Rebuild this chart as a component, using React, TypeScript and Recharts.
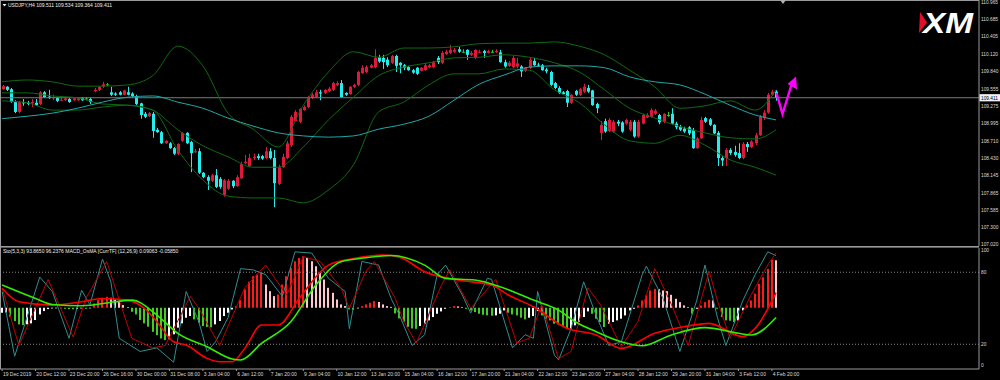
import React from 'react'
import { ComposedChart, Bar, Line, XAxis, YAxis, ReferenceLine } from 'recharts'

const FONT = '"Liberation Sans", Arial, sans-serif'
const TEXT = '#dcdcdc'
const FRAME = '#9a9a9a'
const BULL = '#e0183c'
const BEAR = '#22eeee'
const DOJI = '#22cc22'
const BAND = '#0f6a12'
const MA = '#20a8a8'

const SLOTS = 234

// time axis, one label every 8 bars (H4)
const labelBars = [0, 8, 16, 24, 32, 40, 48, 56, 64, 72, 80, 88, 96, 104, 112, 120, 128, 136, 144, 152, 160, 168, 176, 184]
const timeLabels = [
  '19 Dec 2019', '20 Dec 12:00', '23 Dec 20:00', '26 Dec 16:00', '30 Dec 00:00', '31 Dec 08:00',
  '3 Jan 04:00', '6 Jan 12:00', '7 Jan 20:00', '9 Jan 04:00', '10 Jan 12:00', '13 Jan 20:00',
  '15 Jan 04:00', '16 Jan 12:00', '17 Jan 20:00', '21 Jan 04:00', '22 Jan 12:00', '23 Jan 20:00',
  '27 Jan 04:00', '28 Jan 12:00', '29 Jan 20:00', '31 Jan 04:00', '3 Feb 12:00', '4 Feb 20:00',
]

const priceTicks = [110.965, 110.685, 110.405, 110.12, 109.84, 109.555, 109.275, 108.995, 108.71, 108.43, 108.145, 107.865, 107.585, 107.3, 107.02]
const oscTicks = [0, 20, 80, 100]

// USDJPY H4 candles
const opens = [
  109.55, 109.59, 109.55, 109.34, 109.18, 109.34, 109.33, 109.32, 109.33, 109.31,
  109.50, 109.43, 109.41, 109.41, 109.37, 109.37, 109.39, 109.37, 109.37, 109.41,
  109.40, 109.39, 109.52, 109.54, 109.59, 109.63, 109.50, 109.48, 109.50, 109.46,
  109.50, 109.48, 109.44, 109.32, 109.15, 109.11, 109.15, 108.89, 108.85, 108.67,
  108.67, 108.59, 108.50, 108.71, 108.84, 108.69, 108.53, 108.54, 108.19, 108.12,
  108.06, 108.15, 108.09, 107.83, 107.93, 108.06, 107.97, 108.10, 108.35, 108.30,
  108.43, 108.46, 108.46, 108.43, 108.54, 108.43, 108.01, 108.28, 108.43, 108.64,
  109.03, 109.02, 109.21, 109.26, 109.41, 109.42, 109.50, 109.49, 109.52, 109.54,
  109.62, 109.65, 109.49, 109.47, 109.59, 109.62, 109.81, 109.83, 109.90, 109.91,
  110.07, 110.06, 110.03, 109.98, 110.09, 109.98, 109.94, 109.91, 109.86, 109.90,
  109.85, 109.86, 109.91, 109.91, 110.06, 109.98, 110.12, 110.14, 110.16, 110.20,
  110.16, 110.19, 110.11, 110.06, 110.15, 110.17, 110.14, 110.16, 110.16, 110.15,
  109.99, 109.93, 109.91, 109.92, 109.92, 109.85, 109.90, 110.01, 109.95, 109.94,
  109.87, 109.83, 109.65, 109.57, 109.50, 109.52, 109.33, 109.52, 109.46, 109.51,
  109.57, 109.53, 109.31, 108.84, 109.03, 108.87, 108.86, 109.02, 109.01, 108.99,
  108.89, 109.02, 108.78, 108.99, 109.09, 109.10, 109.15, 109.13, 109.02, 109.13,
  109.15, 108.99, 108.94, 108.91, 108.93, 108.89, 108.59, 108.75, 109.08, 109.06,
  108.97, 108.84, 108.43, 108.43, 108.56, 108.53, 108.51, 108.43, 108.66, 108.61,
  108.67, 108.80, 109.08, 109.17, 109.46, 109.511,
]
const highs = [
  109.62, 109.60, 109.57, 109.37, 109.36, 109.39, 109.36, 109.39, 109.39, 109.52,
  109.52, 109.54, 109.46, 109.42, 109.41, 109.42, 109.41, 109.42, 109.41, 109.42,
  109.42, 109.41, 109.57, 109.60, 109.67, 109.65, 109.59, 109.50, 109.52, 109.54,
  109.59, 109.50, 109.46, 109.33, 109.18, 109.18, 109.18, 108.92, 108.87, 108.72,
  108.69, 108.61, 108.67, 108.85, 108.85, 108.71, 108.58, 108.59, 108.20, 108.15,
  108.17, 108.25, 108.12, 108.09, 108.09, 108.07, 108.15, 108.37, 108.48, 108.50,
  108.50, 108.50, 108.48, 108.61, 108.59, 108.56, 108.32, 108.50, 108.71, 109.13,
  109.21, 109.24, 109.29, 109.44, 109.49, 109.54, 109.54, 109.55, 109.59, 109.67,
  109.68, 109.70, 109.50, 109.60, 109.64, 109.85, 109.94, 109.94, 109.96, 110.20,
  110.11, 110.11, 110.07, 110.11, 110.11, 109.99, 109.96, 109.93, 109.88, 109.91,
  109.91, 109.98, 109.96, 110.01, 110.09, 110.17, 110.19, 110.27, 110.22, 110.24,
  110.20, 110.20, 110.17, 110.20, 110.19, 110.19, 110.19, 110.19, 110.20, 110.19,
  110.03, 110.01, 110.09, 110.06, 109.94, 109.91, 110.06, 110.06, 109.98, 109.96,
  109.90, 109.85, 109.67, 109.60, 109.52, 109.54, 109.47, 109.54, 109.57, 109.64,
  109.62, 109.54, 109.33, 109.03, 109.07, 109.08, 109.05, 109.05, 109.03, 109.07,
  109.05, 109.05, 109.05, 109.15, 109.16, 109.24, 109.23, 109.15, 109.16, 109.18,
  109.24, 109.02, 108.97, 108.94, 108.95, 108.92, 108.77, 109.10, 109.10, 109.08,
  108.98, 108.87, 108.46, 108.59, 108.59, 108.63, 108.67, 108.69, 108.69, 108.72,
  108.84, 109.13, 109.21, 109.49, 109.54, 109.534,
]
const lows = [
  109.54, 109.52, 109.33, 109.16, 109.16, 109.28, 109.29, 109.26, 109.28, 109.29,
  109.41, 109.39, 109.37, 109.34, 109.36, 109.36, 109.33, 109.36, 109.36, 109.36,
  109.37, 109.31, 109.50, 109.52, 109.57, 109.60, 109.44, 109.44, 109.45, 109.45,
  109.45, 109.42, 109.29, 109.07, 109.08, 109.10, 108.76, 108.84, 108.66, 108.66,
  108.58, 108.48, 108.48, 108.69, 108.66, 108.20, 108.51, 108.17, 108.10, 107.91,
  108.04, 107.94, 107.93, 107.80, 107.91, 107.94, 107.96, 108.09, 108.33, 108.28,
  108.40, 108.40, 108.40, 108.41, 108.41, 107.63, 107.99, 108.27, 108.41, 108.61,
  109.02, 109.00, 109.20, 109.24, 109.39, 109.41, 109.37, 109.47, 109.50, 109.52,
  109.60, 109.41, 109.44, 109.46, 109.57, 109.60, 109.80, 109.81, 109.89, 109.89,
  109.98, 109.88, 109.91, 109.96, 109.83, 109.81, 109.86, 109.85, 109.80, 109.78,
  109.84, 109.85, 109.89, 109.89, 109.96, 109.96, 110.11, 110.12, 110.14, 110.14,
  110.14, 110.03, 110.09, 110.04, 110.14, 110.06, 110.13, 110.14, 110.14, 109.98,
  109.90, 109.91, 109.89, 109.89, 109.75, 109.83, 109.88, 109.93, 109.91, 109.85,
  109.81, 109.60, 109.55, 109.47, 109.46, 109.26, 109.31, 109.44, 109.44, 109.49,
  109.49, 109.28, 109.16, 108.72, 108.84, 108.85, 108.84, 108.95, 108.84, 108.97,
  108.87, 108.76, 108.76, 108.98, 109.08, 109.09, 109.13, 108.98, 109.00, 109.10,
  108.98, 108.90, 108.87, 108.84, 108.80, 108.58, 108.58, 108.74, 109.00, 108.95,
  108.82, 108.30, 108.30, 108.30, 108.48, 108.45, 108.41, 108.41, 108.53, 108.59,
  108.64, 108.79, 109.05, 109.15, 109.44, 109.364,
]
const closes = [
  109.60, 109.54, 109.34, 109.18, 109.34, 109.32, 109.31, 109.34, 109.29, 109.50,
  109.42, 109.41, 109.42, 109.36, 109.38, 109.40, 109.34, 109.40, 109.40, 109.37,
  109.40, 109.34, 109.54, 109.59, 109.63, 109.63, 109.46, 109.46, 109.46, 109.53,
  109.46, 109.44, 109.31, 109.13, 109.10, 109.16, 108.87, 108.85, 108.67, 108.71,
  108.59, 108.50, 108.66, 108.84, 108.67, 108.51, 108.54, 108.19, 108.12, 108.06,
  108.15, 107.96, 107.96, 108.07, 108.06, 107.97, 108.12, 108.33, 108.37, 108.43,
  108.45, 108.43, 108.42, 108.54, 108.43, 108.02, 108.28, 108.45, 108.67, 109.10,
  109.18, 109.23, 109.26, 109.42, 109.46, 109.50, 109.48, 109.54, 109.56, 109.65,
  109.65, 109.42, 109.46, 109.59, 109.62, 109.83, 109.90, 109.91, 109.94, 110.06,
  110.00, 109.99, 109.94, 110.09, 109.93, 109.94, 109.90, 109.86, 109.82, 109.80,
  109.90, 109.94, 109.94, 109.99, 109.99, 110.14, 110.16, 110.19, 110.19, 110.16,
  110.16, 110.11, 110.14, 110.19, 110.16, 110.14, 110.17, 110.16, 110.17, 109.99,
  109.92, 109.98, 110.06, 109.97, 109.84, 109.90, 110.03, 109.94, 109.94, 109.86,
  109.84, 109.62, 109.57, 109.49, 109.47, 109.33, 109.46, 109.46, 109.55, 109.59,
  109.51, 109.29, 109.24, 108.97, 108.86, 109.05, 109.02, 108.99, 108.86, 109.05,
  109.02, 108.78, 109.02, 109.13, 109.13, 109.21, 109.20, 109.01, 109.15, 109.13,
  108.99, 108.93, 108.89, 108.86, 108.83, 108.59, 108.75, 109.05, 109.02, 108.97,
  108.83, 108.43, 108.39, 108.56, 108.51, 108.48, 108.43, 108.66, 108.61, 108.70,
  108.80, 109.10, 109.17, 109.46, 109.51, 109.411,
]

// Bollinger (20,2) and slow MA, read every 6 bars
const bandBars = [0, 6, 12, 18, 24, 30, 36, 42, 48, 54, 60, 66, 72, 78, 84, 90, 96, 102, 108, 114, 120, 126, 132, 138, 144, 150, 156, 162, 168, 174, 180, 185]
const bbUpper = [109.67, 109.70, 109.67, 109.60, 109.60, 109.62, 109.77, 110.25, 109.93, 109.16, 108.90, 108.61, 109.29, 109.83, 110.16, 110.07, 110.22, 110.22, 110.24, 110.29, 110.30, 110.30, 110.32, 110.25, 110.11, 109.86, 109.59, 109.24, 109.28, 109.36, 109.21, 109.54]
const bbMiddle = [109.49, 109.49, 109.44, 109.41, 109.31, 109.29, 109.21, 108.89, 108.63, 108.45, 108.28, 108.28, 108.61, 109.05, 109.42, 109.77, 109.91, 109.98, 110.06, 110.07, 110.11, 110.07, 109.98, 109.83, 109.54, 109.24, 109.08, 108.94, 108.84, 108.76, 108.74, 108.89]
const bbLower = [109.36, 109.33, 109.21, 109.21, 109.26, 109.29, 109.21, 108.56, 108.07, 107.81, 107.78, 107.78, 107.70, 107.91, 108.32, 109.18, 109.34, 109.62, 109.80, 109.80, 109.88, 109.86, 109.54, 109.33, 108.97, 108.71, 108.67, 108.80, 108.64, 108.40, 108.28, 108.15]
const maSlow = [109.07, 109.11, 109.16, 109.24, 109.34, 109.42, 109.44, 109.34, 109.24, 109.08, 108.95, 108.84, 108.79, 108.77, 108.79, 108.90, 108.98, 109.11, 109.37, 109.63, 109.78, 109.91, 109.93, 109.93, 109.90, 109.75, 109.67, 109.62, 109.47, 109.29, 109.13, 109.05]

// Stochastic (5,3,3)
const stochBars = [0, 3, 9, 12, 16, 19, 21, 24, 26, 28, 33, 37, 41, 44, 47, 49, 51, 54, 57, 60, 63, 67, 70, 74, 78, 82, 83, 86, 90, 93, 95, 98, 101, 104, 106, 110, 112, 116, 117, 122, 125, 127, 128, 132, 133, 136, 139, 142, 145, 148, 153, 154, 158, 162, 166, 168, 171, 173, 177, 180, 183, 185]
const stochMain = [64, 10, 76, 64, 25, 65, 53, 91, 72, 25, 14, 17, 5, 64, 39, 14, 22, 42, 83, 82, 78, 60, 97, 96, 75, 64, 33, 89, 86, 58, 44, 19, 28, 78, 86, 61, 46, 75, 74, 17, 28, 25, 64, 11, 7, 33, 72, 44, 19, 22, 78, 85, 58, 14, 56, 86, 42, 19, 56, 78, 97, 93.865]
const signalBars = [0, 4, 11, 17, 20, 25, 31, 36, 39, 45, 47, 52, 58, 63, 68, 72, 76, 81, 83, 87, 89, 94, 96, 99, 105, 107, 112, 118, 123, 126, 129, 133, 136, 140, 143, 148, 152, 156, 160, 164, 169, 171, 174, 179, 183, 185]
const stochSignal = [67, 19, 74, 26, 58, 89, 25, 17, 19, 60, 50, 19, 67, 86, 61, 93, 89, 67, 50, 81, 89, 58, 39, 21, 69, 82, 50, 74, 21, 25, 53, 8, 14, 67, 53, 18, 39, 83, 53, 19, 81, 56, 25, 61, 86, 96.2376]

// MACD_OsMA (12,26,9)
const macdBars = [0, 4, 12, 19, 24, 30, 34, 37, 41, 44, 49, 52, 55, 58, 62, 66, 71, 78, 84, 91, 95, 101, 109, 117, 121, 127, 135, 142, 148, 156, 163, 169, 177, 180, 185]
const macdMain = [0.117, 0.036, 0.016, 0.036, 0.056, 0.046, -0.004, -0.084, -0.205, -0.225, -0.305, -0.325, -0.325, -0.245, -0.104, -0.104, 0.056, 0.257, 0.297, 0.318, 0.305, 0.217, 0.167, 0.137, 0.077, 0.006, -0.124, -0.164, -0.245, -0.154, -0.114, -0.094, -0.174, -0.124, 0.09063]
const macdSigBars = [0, 8, 12, 19, 27, 31, 37, 42, 49, 55, 57, 62, 69, 75, 81, 87, 93, 101, 106, 113, 119, 127, 133, 137, 142, 148, 153, 160, 168, 176, 179, 185]
const macdSignal = [0.137, 0.056, 0.02, 0.012, 0.036, 0.046, -0.044, -0.154, -0.235, -0.309, -0.315, -0.215, -0.084, 0.137, 0.277, 0.301, 0.315, 0.257, 0.177, 0.167, 0.127, 0.046, -0.014, -0.084, -0.144, -0.205, -0.229, -0.164, -0.12, -0.154, -0.164, -0.0585]
const osma = [
  -0.030, -0.028, -0.054, -0.080, -0.100, -0.104, -0.100, -0.094, -0.074, -0.040,
  -0.020, -0.008, -0.004, -0.002, -0.004, -0.006, -0.008, -0.009, -0.006, -0.004,
  -0.006, -0.002, 0.026, 0.046, 0.060, 0.066, 0.060, 0.050, 0.036, 0.016,
  0.004, -0.024, -0.040, -0.074, -0.094, -0.114, -0.145, -0.165, -0.185, -0.195,
  -0.190, -0.160, -0.120, -0.094, -0.060, -0.050, -0.070, -0.090, -0.110, -0.115,
  -0.118, -0.100, -0.080, -0.050, -0.030, -0.010, 0.010, 0.046, 0.110, 0.157,
  0.190, 0.200, 0.210, 0.140, 0.100, 0.070, 0.080, 0.140, 0.190, 0.240,
  0.280, 0.300, 0.310, 0.300, 0.280, 0.250, 0.210, 0.170, 0.120, 0.090,
  0.050, 0.020, 0.010, -0.010, -0.012, -0.004, 0.010, 0.020, 0.030, 0.040,
  0.035, 0.020, 0.010, 0.005, -0.034, -0.064, -0.084, -0.115, -0.125, -0.127,
  -0.110, -0.096, -0.076, -0.056, -0.036, -0.022, -0.006, 0.004, 0.010, 0.008,
  0.004, -0.006, -0.016, -0.026, -0.036, -0.042, -0.046, -0.048, -0.046, -0.036,
  -0.016, -0.030, -0.040, -0.046, -0.060, -0.070, -0.060, -0.050, -0.020, -0.046,
  -0.066, -0.076, -0.096, -0.100, -0.115, -0.127, -0.125, -0.106, -0.086, -0.056,
  -0.022, -0.036, -0.066, -0.086, -0.116, -0.096, -0.086, -0.076, -0.066, -0.046,
  -0.016, -0.006, 0.014, 0.044, 0.074, 0.104, 0.114, 0.112, 0.104, 0.100,
  0.078, 0.054, 0.034, 0.014, 0.004, -0.036, -0.006, 0.014, 0.034, 0.048,
  0.044, -0.006, -0.056, -0.076, -0.078, -0.086, -0.076, -0.016, 0.014, 0.044,
  0.084, 0.144, 0.184, 0.234, 0.290, 0.286,
]

const lastClose = closes[closes.length - 1]

const rows: any[] = Array.from({ length: SLOTS }, (_, i) => {
  const has = i < closes.length
  return {
    i,
    candle: has ? [lows[i], highs[i]] : null,
    o: has ? opens[i] : null,
    h: has ? highs[i] : null,
    l: has ? lows[i] : null,
    c: has ? closes[i] : null,
    up: null, mid: null, dn: null, ma: null,
    k: null, d: null, macd: null, msig: null,
    osma: has ? osma[i] : null,
    osmaPrev: has && i > 0 ? osma[i - 1] : null,
  }
})
bandBars.forEach((b, j) => {
  rows[b].up = bbUpper[j]
  rows[b].mid = bbMiddle[j]
  rows[b].dn = bbLower[j]
  rows[b].ma = maSlow[j]
})
stochBars.forEach((b, j) => { rows[b].k = stochMain[j] })
signalBars.forEach((b, j) => { rows[b].d = stochSignal[j] })
macdBars.forEach((b, j) => { rows[b].macd = macdMain[j] })
macdSigBars.forEach((b, j) => { rows[b].msig = macdSignal[j] })

const Candle = (props: any) => {
  const { x, y, width, height, payload } = props
  if (!payload || payload.c == null) return null
  let top = y
  let h = height
  if (h < 0) { top = y + h; h = -h }
  const { o, c } = payload
  const hi = payload.h
  const lo = payload.l
  const ppu = hi > lo ? h / (hi - lo) : 0
  const cx = Math.round(x + width / 2) + 0.5
  const yO = top + (hi - o) * ppu
  const yC = top + (hi - c) * ppu
  const color = c > o ? BULL : c < o ? BEAR : DOJI
  const bodyTop = Math.min(yO, yC)
  const bodyH = Math.max(Math.abs(yC - yO), 1)
  return (
    <g>
      <line x1={cx} x2={cx} y1={top} y2={top + h} stroke={color} strokeWidth={1} />
      <rect x={cx - 1.5} y={bodyTop} width={3} height={bodyH} fill={color} />
    </g>
  )
}

const OsmaBar = (props: any) => {
  const { x, y, width, height, payload } = props
  if (!payload || payload.osma == null) return null
  let top = y
  let h = height
  if (h < 0) { top = y + h; h = -h }
  const v = payload.osma
  const p = payload.osmaPrev
  let color
  if (v >= 0) color = p == null || v >= p ? '#ff1a1a' : '#ffc8d0'
  else color = p != null && v <= p ? '#44cc22' : '#ffffff'
  return <rect x={Math.round(x + width / 2) - 1} y={top} width={2} height={Math.max(h, 0.6)} fill={color} />
}

const PriceTick = (props: any) => {
  const { x, y, payload } = props
  const v = payload.value
  if (v === lastClose) {
    return (
      <g>
        <rect x={x + 0.5} y={y - 3.6} width={20.5} height={7.2} fill="#f2f2f2" />
        <text x={x + 2} y={y + 1.8} fontSize={4.8} fill="#000" textAnchor="start" fontFamily={FONT}>{v.toFixed(3)}</text>
      </g>
    )
  }
  return <text x={x + 2} y={y + 1.8} fontSize={4.8} fill={TEXT} textAnchor="start" fontFamily={FONT}>{v.toFixed(3)}</text>
}

const OscTick = (props: any) => {
  const { y, payload } = props
  const v = payload.value
  const dy = v === 100 ? 2.4 : v === 0 ? -3.3 : 0
  return <text x={981} y={y + dy + 1.8} fontSize={4.8} fill={TEXT} textAnchor="start" fontFamily={FONT}>{v}</text>
}

const TimeTick = (props: any) => {
  const { x, y, payload } = props
  const idx = labelBars.indexOf(payload.value)
  return (
    <g>
      <line x1={x} x2={x} y1={y} y2={y + 2} stroke={FRAME} strokeWidth={1} />
      <text x={x + 0.8} y={y + 7} fontSize={5} fill={TEXT} textAnchor="start" fontFamily={FONT}>{timeLabels[idx]}</text>
    </g>
  )
}

const lineProps = { dot: false, activeDot: false, connectNulls: true, isAnimationActive: false } as const

export default function App() {
  return (
    <div style={{ position: 'relative', width: 1000, height: 380, background: '#000', overflow: 'hidden' }}>
      <style>{'body{margin:0;background:#000}'}</style>
      <div style={{ position: 'absolute', left: 0, top: 0 }}>
        <ComposedChart width={1000} height={246} data={rows} margin={{ top: 0, right: 0, left: 0, bottom: 0 }}>
          <XAxis dataKey="i" hide />
          <YAxis
            orientation="right"
            width={21}
            domain={[106.998, 111.002]}
            allowDataOverflow
            ticks={[...priceTicks, lastClose]}
            interval={0}
            tickSize={0}
            tickMargin={0}
            tickLine={false}
            axisLine={{ stroke: FRAME }}
            tick={<PriceTick />}
          />
          <ReferenceLine y={lastClose} stroke="#7a7a7a" strokeWidth={1} />
          <Line dataKey="up" type="monotone" stroke={BAND} strokeWidth={1} {...lineProps} />
          <Line dataKey="mid" type="monotone" stroke={BAND} strokeWidth={1} {...lineProps} />
          <Line dataKey="dn" type="monotone" stroke={BAND} strokeWidth={1} {...lineProps} />
          <Line dataKey="ma" type="monotone" stroke={MA} strokeWidth={1} {...lineProps} />
          <Bar dataKey="candle" barSize={3} shape={<Candle />} isAnimationActive={false} />
        </ComposedChart>
      </div>
      <div style={{ position: 'absolute', left: 0, top: 246 }}>
        <ComposedChart width={1000} height={134} data={rows} margin={{ top: 2, right: 0, left: 0, bottom: 0 }}>
          <XAxis
            dataKey="i"
            ticks={labelBars}
            interval={0}
            height={11}
            tickSize={0}
            tickMargin={0}
            tickLine={false}
            axisLine={{ stroke: FRAME }}
            tick={<TimeTick />}
          />
          <YAxis
            yAxisId="s"
            orientation="right"
            width={21}
            domain={[-0.6, 100.2]}
            allowDataOverflow
            ticks={oscTicks}
            interval={0}
            tickSize={0}
            tickMargin={0}
            tickLine={false}
            axisLine={{ stroke: FRAME }}
            tick={<OscTick />}
          />
          <YAxis yAxisId="m" orientation="left" hide domain={[-0.369, 0.36]} allowDataOverflow />
          <ReferenceLine yAxisId="s" y={80} stroke="#8a8a8a" strokeDasharray="1 2" />
          <ReferenceLine yAxisId="s" y={20} stroke="#8a8a8a" strokeDasharray="1 2" />
          <Bar yAxisId="m" dataKey="osma" barSize={2} shape={<OsmaBar />} isAnimationActive={false} />
          <Line yAxisId="s" dataKey="k" type="linear" stroke="#2f8f8f" strokeWidth={1} {...lineProps} />
          <Line yAxisId="s" dataKey="d" type="linear" stroke="#c00000" strokeWidth={1} {...lineProps} />
          <Line yAxisId="m" dataKey="macd" type="monotone" stroke="#ff0000" strokeWidth={1.6} {...lineProps} />
          <Line yAxisId="m" dataKey="msig" type="monotone" stroke="#33ee00" strokeWidth={1.6} {...lineProps} />
        </ComposedChart>
      </div>
      <svg width={1000} height={380} style={{ position: 'absolute', left: 0, top: 0, pointerEvents: 'none' }}>
        <line x1={0} x2={979} y1={0.5} y2={0.5} stroke={FRAME} />
        <line x1={0.5} x2={0.5} y1={0} y2={369} stroke={FRAME} />
        <rect x={0} y={246} width={979} height={1.6} fill={FRAME} />
        <polygon points="780,0 786,0 783,4" fill="#b0b0b0" />
        <polygon points="2.5,4 6.5,4 4.5,6.5" fill="#f0f0f0" />
        <text x={8} y={6.8} fontSize={5} fill="#f0f0f0" fontFamily={FONT}>USDJPY,H4  109.511 109.534 109.364 109.411</text>
        <text x={3} y={252.5} fontSize={5} fill="#f0f0f0" fontFamily={FONT}>Sto(5,3,3) 93.8650 96.2376  MACD_OsMA [CurrTF] (12,26,9) 0.09063 -0.05850</text>
        <polygon points="920,12 927,22.5 919,33" fill="#e0102a" />
        <text x={923} y={33} fontSize={29} fontWeight="bold" fontStyle="italic" fill="#ffffff" fontFamily={FONT} textLength={50} lengthAdjust="spacingAndGlyphs">XM</text>
        <polyline points="776.5,93 782.5,114 792,83" fill="none" stroke="#ff00ff" strokeWidth={2.4} strokeLinejoin="miter" />
        <polygon points="796,76.5 787.5,84 797,89.5" fill="#ff00ff" />
      </svg>
    </div>
  )
}
